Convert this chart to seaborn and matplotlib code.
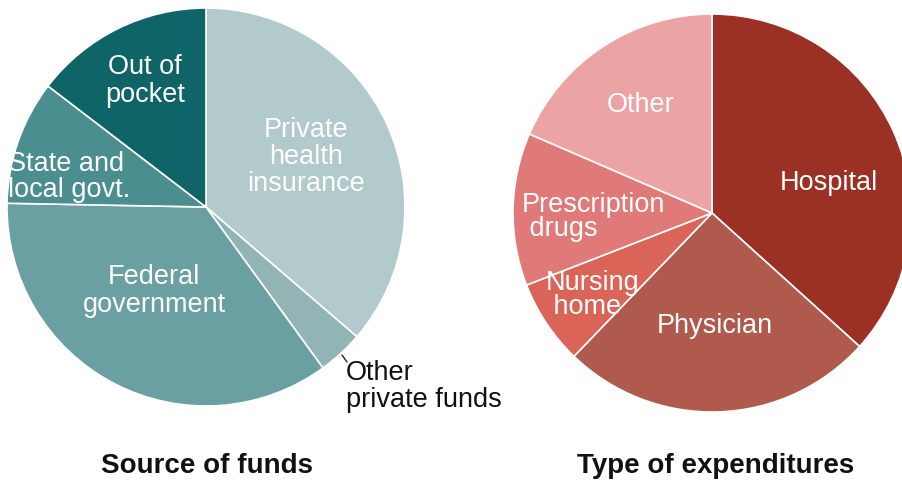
import matplotlib
matplotlib.use("Agg")
import matplotlib.pyplot as plt
import seaborn as sns

# data (shares in %)
fund_labels = ["Private health insurance", "Other private funds", "Federal government",
               "State and local govt.", "Out of pocket"]
fund_values = [36.3, 3.7, 35.3, 10.1, 14.6]
fund_colors = ["#b3cacd", "#92b4b4", "#6aa0a2", "#4a8e90", "#0f6467"]

exp_labels = ["Hospital", "Physician", "Nursing home", "Prescription drugs", "Other"]
exp_values = [36.7, 25.5, 6.9, 12.4, 18.5]
exp_colors = ["#9a3124", "#b05a4d", "#da6458", "#e07a79", "#eca3a3"]

sns.set_theme(style="white")
plt.rcParams["font.family"] = ["Liberation Sans", "DejaVu Sans"]

W, H = 903, 483
fig = plt.figure(figsize=(W / 100, H / 100), dpi=100)
ax = fig.add_axes([0, 0, 1, 1])

wp = dict(edgecolor="white", linewidth=1.2)
ax.pie(fund_values, colors=fund_colors, startangle=90, counterclock=False,
       center=(206, H - 207), radius=199, wedgeprops=wp, frame=True)
ax.pie(exp_values, colors=exp_colors, startangle=90, counterclock=False,
       center=(712, H - 213), radius=199, wedgeprops=wp, frame=True)
ax.set_xlim(0, W)
ax.set_ylim(0, H)
ax.set_aspect("equal")
ax.axis("off")

fs = 19.5
white = dict(color="white", fontsize=fs, va="center")

# labels, source of funds
ax.text(145, H - 81, "Out of\npocket", ha="center", linespacing=1.05, **white)
ax.text(306, H - 157, "Private\nhealth\ninsurance", ha="center", linespacing=1.05, **white)
ax.text(8, H - 177, "State and\nlocal govt.", ha="left", linespacing=1.02, **white)
ax.text(154, H - 291, "Federal\ngovernment", ha="center", linespacing=1.05, **white)
ax.plot([342, 347], [H - 355, H - 362], color="#222222", lw=1)
ax.text(346, H - 387, "Other\nprivate funds", ha="left", color="#111111",
        fontsize=fs, linespacing=1.05, va="center")

# labels, type of expenditures
ax.text(829, H - 183, "Hospital", ha="center", **white)
ax.text(715, H - 326, "Physician", ha="center", **white)
ax.text(641, H - 105, "Other", ha="center", **white)
ax.text(522, H - 217, "Prescription\n drugs", ha="left", linespacing=0.93, **white)
ax.text(546, H - 295, "Nursing\n home", ha="left", linespacing=0.9, **white)

# titles
ax.text(207, H - 466, "Source of funds", ha="center", va="center",
        fontsize=20, fontweight="bold", color="#111111")
ax.text(716, H - 466, "Type of expenditures", ha="center", va="center",
        fontsize=20, fontweight="bold", color="#111111")

fig.savefig("out.png", dpi=100)
